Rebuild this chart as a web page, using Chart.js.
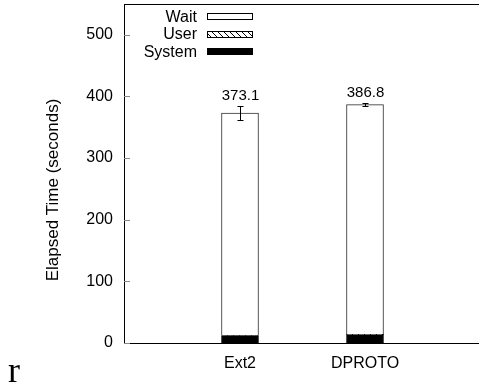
<!DOCTYPE html>
<html>
<head>
<meta charset="utf-8">
<title>Elapsed time</title>
<script src="https://cdn.jsdelivr.net/npm/chart.js@4.4.1/dist/chart.umd.min.js"></script>
<style>
  html, body { margin: 0; padding: 0; background: #fff; }
  #wrap { position: relative; width: 479px; height: 385px; overflow: hidden; }
  #mark { position: absolute; left: 8px; top: 352px; font-family: "Liberation Serif", serif; font-size: 36px; line-height: 1; color: #000; }
</style>
</head>
<body>
<div id="wrap">
  <canvas id="timeChart" width="479" height="385"></canvas>
  <span id="mark">r</span>
</div>
<script>
const systems = ['Ext2', 'DPROTO'];
const systemTime = [12, 13.5];
const userTime = [0.4, 0.4];
const waitTime = [360.7, 372.9];
const totals = [373.1, 386.8];
const errors = [11.5, 3];
const yTicks = [0, 100, 200, 300, 400, 500];

const FONT = '"Liberation Sans", Arial, sans-serif';

// diagonal hatch used for the User component
const hatch = (() => {
  const c = document.createElement('canvas');
  c.width = 6; c.height = 6;
  const g = c.getContext('2d');
  g.fillStyle = '#fff';
  g.fillRect(0, 0, 6, 6);
  g.strokeStyle = '#000';
  g.lineWidth = 1;
  g.beginPath();
  g.moveTo(0, 0); g.lineTo(6, 6);
  g.moveTo(-1, 5); g.lineTo(1, 7);
  g.moveTo(5, -1); g.lineTo(7, 1);
  g.stroke();
  return g.createPattern(c, 'repeat');
})();

const points = arr => arr.map((v, i) => ({ x: i, y: v }));

const datasets = [
  { label: 'System', data: points(systemTime), backgroundColor: '#000', borderColor: '#000' },
  { label: 'User', data: points(userTime), backgroundColor: hatch, borderColor: '#000' },
  { label: 'Wait', data: points(waitTime), backgroundColor: '#fff', borderColor: '#333' }
].map(d => ({ ...d, borderWidth: 1, barThickness: 37 }));

const extras = {
  id: 'extras',
  afterDatasetsDraw(chart) {
    const { ctx, chartArea: a, scales: { x, y } } = chart;
    ctx.save();

    // top frame line
    ctx.strokeStyle = '#000';
    ctx.lineWidth = 1;
    ctx.beginPath();
    ctx.moveTo(a.left, a.top + 0.5);
    ctx.lineTo(a.right, a.top + 0.5);
    ctx.stroke();

    // inward tick marks on the y axis
    ctx.strokeStyle = '#888';
    yTicks.forEach(v => {
      const py = Math.round(y.getPixelForValue(v)) + 0.5;
      ctx.beginPath();
      ctx.moveTo(a.left, py);
      ctx.lineTo(a.left + 6, py);
      ctx.stroke();
    });

    // error bars and totals
    ctx.strokeStyle = '#000';
    ctx.fillStyle = '#000';
    ctx.font = '15px ' + FONT;
    ctx.textAlign = 'center';
    ctx.textBaseline = 'alphabetic';
    totals.forEach((t, i) => {
      const px = Math.round(x.getPixelForValue(i)) + 0.5;
      const hi = Math.round(y.getPixelForValue(t + errors[i])) + 0.5;
      const lo = Math.round(y.getPixelForValue(t - errors[i])) + 0.5;
      ctx.beginPath();
      ctx.moveTo(px, hi); ctx.lineTo(px, lo);
      ctx.moveTo(px - 3, hi); ctx.lineTo(px + 3, hi);
      ctx.moveTo(px - 3, lo); ctx.lineTo(px + 3, lo);
      ctx.stroke();
      ctx.fillText(t.toFixed(1), px, hi - 7);
    });

    // legend: label right-aligned, swatch to its right
    const order = ['Wait', 'User', 'System'];
    ctx.font = '16px ' + FONT;
    ctx.textAlign = 'right';
    ctx.textBaseline = 'middle';
    order.forEach((name, k) => {
      const ds = chart.data.datasets.find(d => d.label === name);
      const cy = 16.5 + k * 17.5;
      ctx.fillStyle = '#000';
      ctx.fillText(name, 197, cy + 1);
      ctx.fillStyle = ds.backgroundColor;
      ctx.fillRect(207, Math.round(cy - 3.5), 46, 7);
      ctx.strokeStyle = '#000';
      ctx.strokeRect(207.5, Math.round(cy - 3.5) + 0.5, 45, 6);
    });

    // y axis title
    ctx.translate(53, 190);
    ctx.rotate(-Math.PI / 2);
    ctx.textAlign = 'center';
    ctx.fillStyle = '#000';
    ctx.font = '17px ' + FONT;
    ctx.fillText('Elapsed Time (seconds)', 0, 0);

    ctx.restore();
  }
};

new Chart(document.getElementById('timeChart'), {
  type: 'bar',
  data: { datasets },
  plugins: [extras],
  options: {
    responsive: false,
    animation: false,
    layout: { padding: { top: 4, right: 0, left: 0, bottom: 0 } },
    plugins: { legend: { display: false }, tooltip: { enabled: false } },
    scales: {
      x: {
        type: 'linear',
        stacked: true,
        offset: false,
        min: -0.928,
        max: 1.912,
        afterBuildTicks: s => { s.ticks = systems.map((_, i) => ({ value: i })); },
        afterFit: s => { s.height = 42; s.paddingLeft = 0; s.paddingRight = 0; },
        grid: { display: false, drawTicks: false },
        border: { display: true, color: '#000', width: 1 },
        ticks: {
          padding: 11,
          color: '#000',
          font: { family: FONT, size: 16 },
          callback: v => systems[v] ?? ''
        }
      },
      y: {
        stacked: true,
        min: 0,
        max: 550,
        afterBuildTicks: s => { s.ticks = yTicks.map(v => ({ value: v })); },
        afterFit: s => { s.width = 124; s.paddingTop = 0; s.paddingBottom = 0; },
        grid: { display: false, drawTicks: false },
        border: { display: true, color: '#000', width: 1 },
        ticks: {
          padding: 11,
          color: '#000',
          font: { family: FONT, size: 16 }
        }
      }
    }
  }
});
</script>
</body>
</html>
